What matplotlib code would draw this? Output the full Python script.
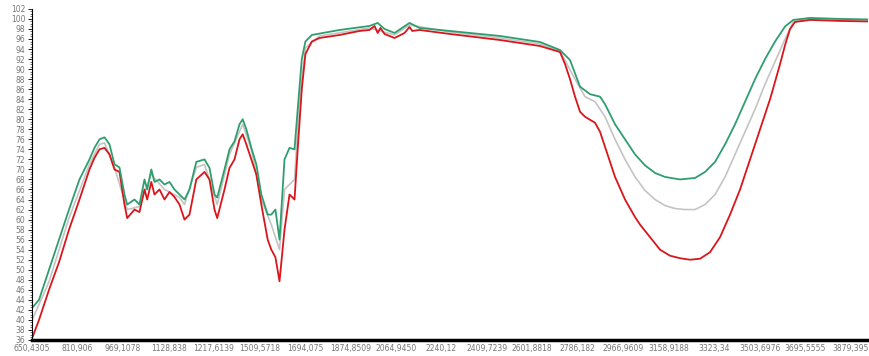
import matplotlib.pyplot as plt
import numpy as np
from matplotlib.ticker import MultipleLocator

# x positions are in units of the tick labels (0 = first label)
xlabels = ["650,4305", "810,906", "969,1078", "1128,838", "1217,6139", "1509,5718",
           "1694,075", "1874,8509", "2064,9450", "2240,12", "2409,7239", "2601,8818",
           "2786,182", "2966,9609", "3158,9188", "3323,34", "3503,6976", "3695,5555",
           "3879,395"]

red_x = [0, 0.15, 0.37, 0.59, 0.81, 1.04, 1.26, 1.37, 1.48, 1.59, 1.70, 1.81, 1.92,
         2.03, 2.09, 2.25, 2.36, 2.47, 2.53, 2.62, 2.69, 2.80, 2.91, 3.02, 3.13, 3.24,
         3.35, 3.46, 3.61, 3.79, 3.90, 4.01, 4.07, 4.23, 4.34, 4.45, 4.56, 4.63, 4.71,
         4.82, 4.93, 5.04, 5.18, 5.26, 5.35, 5.44, 5.55, 5.66, 5.77, 5.84, 5.93, 6.01,
         6.15, 6.32, 6.76, 7.20, 7.42, 7.53, 7.60, 7.66, 7.75, 7.97, 8.19, 8.30, 8.36,
         8.52, 9.19, 10.29, 11.17, 11.61, 11.72, 11.83, 11.94, 12.05, 12.16, 12.38,
         12.49, 12.60, 12.82, 13.04, 13.26, 13.37, 13.59, 13.81, 14.03, 14.25, 14.47,
         14.69, 14.91, 15.13, 15.35, 15.57, 15.79, 16.01, 16.23, 16.45, 16.56, 16.67,
         16.78, 17.11, 17.78, 18.39]
red_y = [36.4, 40, 46, 51.5, 58, 64, 70, 72.3, 74, 74.3, 73, 70, 69.5,
         63, 60.3, 62, 61.5, 66, 64, 67.5, 65, 66, 64, 65.5, 64.5, 63,
         60, 61, 68, 69.5, 68, 62, 60.3, 66, 70.3, 72, 76, 77, 75,
         72, 69, 63, 56, 54, 52.5, 47.7, 58, 65, 64, 74, 86, 93,
         95.5, 96.2, 96.8, 97.6, 97.8, 98.6, 97.2, 98.2, 97, 96.2, 97.2, 98.4, 97.6,
         97.8, 97, 95.8, 94.6, 93.4, 91, 88, 84.5, 81.5, 80.5, 79.3,
         77.5, 74.5, 68.5, 64, 60.5, 59, 56.5, 54, 52.8, 52.3, 52,
         52.2, 53.5, 56.5, 61, 66, 72, 78, 84, 91, 94.8, 98,
         99.4, 99.8, 99.6, 99.5]

green_x = [0, 0.15, 0.37, 0.59, 0.81, 1.04, 1.26, 1.37, 1.48, 1.59, 1.70, 1.81, 1.92,
           2.03, 2.09, 2.25, 2.36, 2.47, 2.53, 2.62, 2.69, 2.80, 2.91, 3.02, 3.13, 3.24,
           3.35, 3.46, 3.61, 3.79, 3.90, 4.01, 4.07, 4.23, 4.34, 4.45, 4.56, 4.63, 4.71,
           4.82, 4.93, 5.04, 5.18, 5.26, 5.35, 5.44, 5.55, 5.66, 5.77, 5.84, 5.93, 6.01,
           6.15, 6.76, 7.42, 7.60, 7.75, 7.97, 8.30, 8.52, 9.19, 10.29, 11.17, 11.61,
           11.83, 12.05, 12.27, 12.49, 12.60, 12.82, 13.04, 13.26, 13.48, 13.70, 13.92,
           14.25, 14.58, 14.80, 15.02, 15.24, 15.46, 15.68, 15.90, 16.12, 16.34, 16.56,
           16.74, 17.11, 17.78, 18.39]
green_y = [42.4, 44, 50, 56, 62, 68, 72, 74.3, 76, 76.4, 75, 71, 70.4,
           65, 63, 64, 63, 68, 66, 70, 67.5, 68, 67, 67.5, 66, 65,
           64, 66, 71.5, 72, 70.3, 65, 64.4, 70, 74, 75.6, 79, 80, 78,
           74.3, 71, 65, 61, 61, 62, 56, 72, 74.3, 74, 82, 92, 95.5,
           96.8, 97.8, 98.6, 99.2, 98, 97.2, 99.2, 98.2, 97.6, 96.6, 95.4, 93.8,
           91.8, 86.5, 85, 84.5, 83, 79, 76, 73, 70.8, 69.3, 68.5,
           68, 68.3, 69.5, 71.5, 75, 79, 83.5, 88, 92, 95.5, 98.5,
           99.8, 100.2, 100, 99.9]

grey_x = [0, 0.37, 0.81, 1.26, 1.48, 1.59, 1.81, 2.09, 2.36, 2.62, 2.91, 3.24, 3.35,
          3.61, 3.79, 4.07, 4.34, 4.63, 4.82, 5.04, 5.26, 5.44, 5.55, 5.77, 5.88, 6.01,
          6.32, 7.42, 7.97, 8.30, 9.19, 10.29, 11.17, 11.61, 11.94, 12.16, 12.38, 12.60,
          12.82, 13.04, 13.26, 13.48, 13.70, 13.92, 14.14, 14.36, 14.58, 14.80, 15.02,
          15.24, 15.46, 15.68, 15.90, 16.12, 16.34, 16.56, 16.74, 17.11, 18.39]
grey_y = [40, 47.6, 60.3, 71, 75, 75.3, 70.4, 62, 62.6, 69, 66, 64.4, 63,
          70.4, 71, 63, 73, 79, 74, 64, 59, 54, 66, 68, 84, 94.2,
          96.6, 98.2, 96.8, 98.8, 97.4, 96.2, 95, 93.6, 88, 84.5, 83.5, 80.5,
          76, 72, 68.5, 65.8, 64, 62.8, 62.2, 62, 62, 63, 65,
          68.5, 73, 77.5, 82, 87, 91.5, 96, 99.4, 100, 99.8]

fig = plt.figure(figsize=(8.7, 3.56), dpi=100)
ax = fig.add_axes([0.037, 0.045, 0.961, 0.93])

ax.plot(grey_x, grey_y, color='#c4c4c4', lw=1.2)
ax.plot(red_x, red_y, color='#d8161b', lw=1.3)
ax.plot(green_x, green_y, color='#2f9e6e', lw=1.3)

ax.set_xlim(0, 18.39)
ax.set_ylim(36, 102)
ax.yaxis.set_major_locator(MultipleLocator(2))
ax.yaxis.set_minor_locator(MultipleLocator(0.5))
ax.set_xticks(np.arange(len(xlabels)))
ax.set_xticklabels(xlabels)
ax.tick_params(axis='x', length=0, labelsize=5.5, labelcolor='#777777', pad=3)
ax.tick_params(axis='y', which='major', length=3, width=0.6, labelsize=5.5,
               labelcolor='#777777', pad=2)
ax.tick_params(axis='y', which='minor', length=1.5, width=0.4)

for s in ['top', 'right']:
    ax.spines[s].set_visible(False)
ax.spines['left'].set_linewidth(0.8)
ax.spines['bottom'].set_linewidth(2.5)

fig.savefig('out.png', dpi=100)
